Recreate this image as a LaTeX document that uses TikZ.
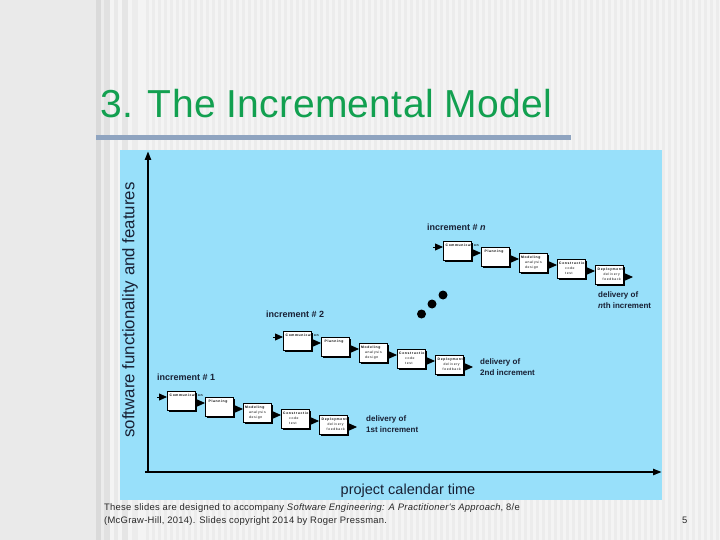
\documentclass[tikz,border=0pt]{standalone}
\usepackage{fontspec}
\setmainfont{Liberation Sans}
\newfontfamily\boxfont[LetterSpace=18]{Liberation Sans}
\newfontfamily\footfont[LetterSpace=3]{Liberation Sans}
\newfontfamily\titlefont[LetterSpace=0.8]{Liberation Sans}
\usetikzlibrary{arrows.meta,calc,shadows}
\definecolor{pagebg}{RGB}{234,234,234}
\definecolor{stripelight}{RGB}{244,244,244}
\definecolor{stripedark}{RGB}{236,236,236}
\definecolor{stripegray}{RGB}{218,218,218}
\definecolor{titlegreen}{RGB}{18,160,80}
\definecolor{rulecol}{RGB}{143,164,192}
\definecolor{panelblue}{RGB}{152,224,250}
\definecolor{labelcol}{RGB}{24,32,52}
\definecolor{footcol}{RGB}{40,40,40}
\tikzset{
  procbox/.style={draw=black, fill=white, line width=0.6pt, anchor=north west,
    minimum width=28pt, minimum height=19pt, inner sep=0pt, outer sep=0pt,
    general shadow={fill=black, shadow xshift=1.8pt, shadow yshift=-1.8pt}},
  boxtxt/.style={anchor=north west, inner sep=0pt, align=left, text=black,
    font=\boxfont\fontsize{3.4}{4.8}\selectfont},
  flow/.style={line width=0.8pt, -{Triangle[length=8pt,width=7pt]}},
  axis/.style={line width=2.6pt, -{Triangle[length=9pt,width=6pt]}},
  inclabel/.style={anchor=base west, inner sep=0pt, text=labelcol,
    font=\bfseries\fontsize{9}{10}\selectfont},
  dellabel/.style={anchor=base west, inner sep=0pt, text=labelcol, align=left,
    font=\bfseries\fontsize{8}{11}\selectfont},
  dot/.style={circle, fill=black, inner sep=0pt, minimum size=9pt}
}
\newcommand\drawincr[3]{%
  \node[procbox] (#1a) at (#2,#3) {};
  \node[procbox] (#1b) at (#2+38,#3+6) {};
  \node[procbox] (#1c) at (#2+76,#3+12) {};
  \node[procbox] (#1d) at (#2+114,#3+18) {};
  \node[procbox] (#1e) at (#2+152,#3+24) {};
  \node[boxtxt] (#1at) at ($(#1a.north west)+(2.5,3)$) {\bfseries Communication};
  \node[boxtxt] (#1bt) at ($(#1b.north west)+(3.5,3)$) {\bfseries Planning};
  \node[boxtxt] (#1ct) at ($(#1c.north west)+(2,3)$) {\bfseries Modeling\\\hspace*{4pt}analysis\\\hspace*{4pt}design};
  \node[boxtxt] (#1dt) at ($(#1d.north west)+(2,3)$) {\bfseries Construction\\\hspace*{6pt}code\\\hspace*{6pt}test};
  \node[boxtxt] (#1et) at ($(#1e.north west)+(2.5,3)$) {\bfseries Deployment\\\hspace*{6pt}delivery\\\hspace*{5pt}feedback};
  \coordinate (#1in) at ($(#1a.north west)+(-10,6)$);
  \coordinate (#1out) at ($(#1e.north east)+(10,12)$);
  \draw[flow] (#1in) -- ($(#1a.north west)+(0,6)$);
  \draw[flow] ($(#1a.north east)+(0,12)$) -- ($(#1b.north west)+(0,6)$);
  \draw[flow] ($(#1b.north east)+(0,12)$) -- ($(#1c.north west)+(0,6)$);
  \draw[flow] ($(#1c.north east)+(0,12)$) -- ($(#1d.north west)+(0,6)$);
  \draw[flow] ($(#1d.north east)+(0,12)$) -- ($(#1e.north west)+(0,6)$);
  \draw[flow] ($(#1e.north east)+(0,12)$) -- (#1out);
}
\begin{document}
\begin{tikzpicture}[x=1pt,y=-1pt]
\useasboundingbox (0,0) rectangle (720,540);
% page background with stripes
\fill[pagebg] (0,0) rectangle (720,540);
\fill[stripelight] (96,0) rectangle (720,540);
\foreach \sx in {146,152,...,716} {\fill[stripedark] (\sx,0) rectangle ++(3,540);}
\fill[stripegray] (96,0) rectangle (101,540);
\fill[stripedark] (101,0) rectangle (104,540);
\fill[stripegray!80!white] (104,0) rectangle (110,540);
\fill[stripegray!60!white] (114,0) rectangle (118,540);
\fill[stripegray!70!white] (122,0) rectangle (128,540);
\fill[stripegray!50!white] (132,0) rectangle (138,540);
% title and rule
\node[anchor=base west, inner sep=0pt, text=titlegreen, font=\titlefont\fontsize{39}{39}\selectfont] (title) at (100,118) {3. The Incremental Model};
\fill[rulecol] (96,135) rectangle (571,140);
% panel
\fill[panelblue] (120,150) rectangle (662,500);
% axes
\coordinate (O) at (148,472);
\coordinate (ytop) at (148,151);
\coordinate (xend) at (662,472);
\coordinate (xstart) at (145,472);
\draw[axis] (xstart) -- (xend);
\draw[axis] (O) -- (ytop);
\node[rotate=90, inner sep=0pt, text=labelcol, font=\fontsize{16.8}{17}\selectfont] (ylab) at (130,310) {software functionality and features};
\node[anchor=base, inner sep=0pt, text=labelcol, font=\fontsize{14.5}{15}\selectfont] (xlab) at (408,494) {project calendar time};
% increments
\drawincr{p}{167}{391}
\drawincr{q}{283}{331}
\drawincr{r}{443}{241}
\node[inclabel] (l1) at (157,380) {increment \# 1};
\node[inclabel] (l2) at (266,317) {increment \# 2};
\node[inclabel] (ln) at (427,230) {increment \# \textit{n}};
\node[dellabel, anchor=north west] (d1) at (366,416) {delivery of\\1st increment};
\node[dellabel, anchor=north west] (d2) at (480,359) {delivery of\\2nd increment};
\node[dellabel, anchor=north west] (dn) at (598,292) {delivery of\\\textit{n}th increment};
% dots
\node[dot] (dot1) at (421.5,314) {};
\node[dot] (dot2) at (432,304) {};
\node[dot] (dot3) at (443,295) {};
% footer
\node[anchor=base west, inner sep=0pt, text=footcol, align=left, font=\footfont\fontsize{9.4}{13}\selectfont] (foot) at (104,523) {These slides are designed to accompany \textit{Software Engineering: A Practitioner's Approach}, 8/e\\(McGraw-Hill, 2014). Slides copyright 2014 by Roger Pressman.};
\node[anchor=base west, inner sep=0pt, text=footcol, font=\footfont\fontsize{9.4}{13}\selectfont] (pnum) at (682,523) {5};
\end{tikzpicture}
\end{document}
